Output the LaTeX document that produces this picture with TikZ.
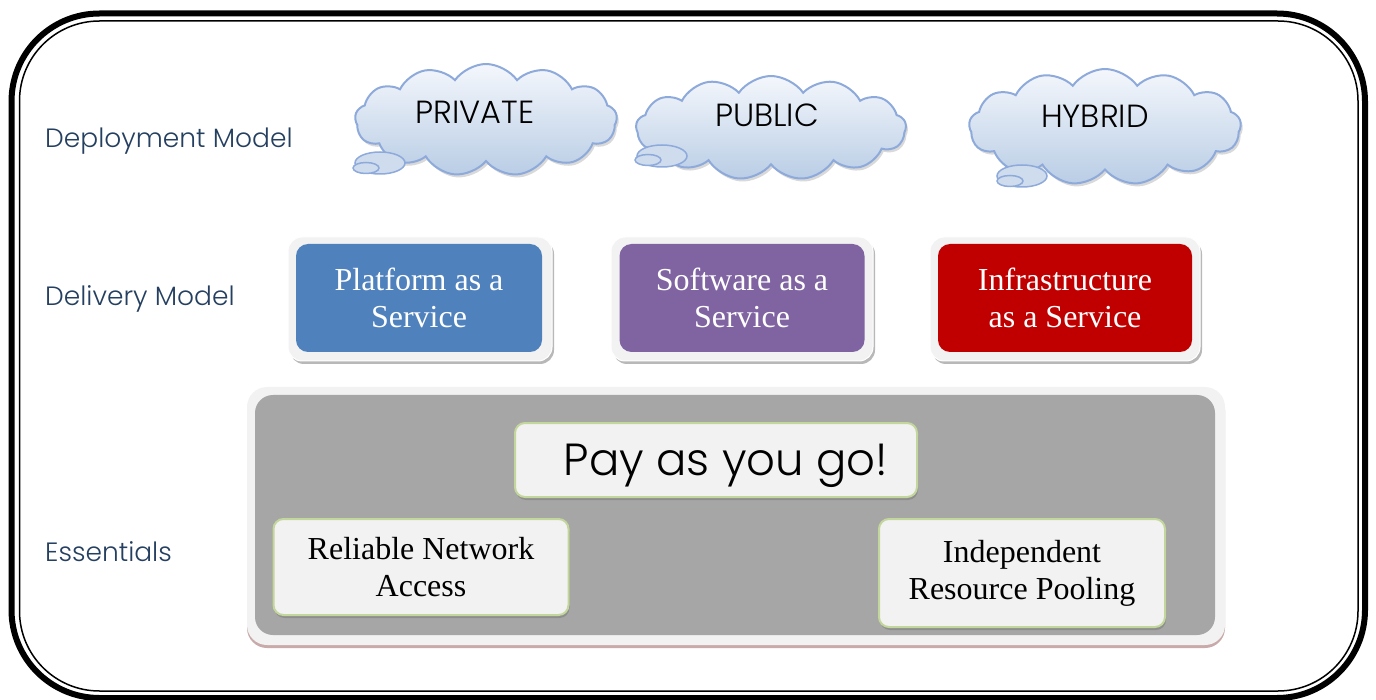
\documentclass[tikz,border=0pt]{standalone}
\usepackage{fontspec}
\setmainfont{Liberation Serif}
\newfontfamily\gothic{Poppins Light}
\usepackage{tikz}
\usetikzlibrary{shapes.symbols,shapes.geometric,shadows}
\definecolor{labelblue}{HTML}{243F60}
\definecolor{cloudline}{HTML}{8EAADB}
\definecolor{cloudtop}{HTML}{F4F7FC}
\definecolor{cloudbot}{HTML}{B9CDE5}
\definecolor{framegray}{HTML}{F2F2F2}
\definecolor{paasblue}{HTML}{4F81BD}
\definecolor{saaspurple}{HTML}{8064A2}
\definecolor{iaasred}{HTML}{C00000}
\definecolor{essgray}{HTML}{A6A6A6}
\definecolor{essgreen}{HTML}{C3D69B}
\definecolor{esspink}{HTML}{C9A9A9}

\begin{document}
\begin{tikzpicture}[x=1pt,y=-1pt,
  layer/.style={font=\gothic\fontsize{26.5}{30}\selectfont, text=labelblue, anchor=west, inner sep=0pt},
  thought/.style={cloud, cloud puffs=13, cloud puff arc=110, draw=cloudline, line width=2pt,
    top color=cloudtop, bottom color=cloudbot, inner sep=0pt,
    drop shadow={shadow xshift=2pt, shadow yshift=-3pt, fill=gray!50, opacity=.6}},
  bubble/.style={ellipse, draw=cloudline, line width=1.5pt, fill=cloudbot!70!white, inner sep=0pt},
  cloudtext/.style={font=\gothic\fontsize{32}{36}\selectfont},
  frame/.style={rounded corners=14, fill=framegray, draw=white, line width=1pt, inner sep=0pt,
    drop shadow={shadow xshift=2pt, shadow yshift=-3pt, fill=gray!70, opacity=.8}},
  service/.style={rounded corners=12, text=white, align=center, inner sep=0pt,
    font=\fontsize{32}{37}\selectfont},
  essential/.style={rounded corners=10, fill=framegray, draw=essgreen, line width=2pt, align=center,
    inner sep=0pt, font=\fontsize{32}{37}\selectfont,
    drop shadow={shadow xshift=1pt, shadow yshift=-3pt, fill=black!45, opacity=.9}}]

  \useasboundingbox (0,0) rectangle (1376,700);

  \draw[line width=6pt, rounded corners=88] (11.5,13.5) rectangle (1365,698);
  \draw[line width=1.5pt, rounded corners=80] (19.5,21) rectangle (1358,691);

  \node[layer] (deploy) at (45,141) {Deployment Model};
  \node[layer] (deliver) at (45,299) {Delivery Model};
  \node[layer] (essent) at (45,552) {Essentials};

  \node[thought, minimum width=262, minimum height=112] (private) at (486,120) {};
  \node[bubble, minimum width=50, minimum height=22] (privateb) at (380,163) {};
  \node[bubble, minimum width=26, minimum height=11] (privates) at (366,168) {};
  \node[cloudtext] (privatet) at (475,112) {PRIVATE};

  \node[thought, minimum width=270, minimum height=104] (public) at (771,128) {};
  \node[bubble, minimum width=50, minimum height=22] (publicb) at (662,156) {};
  \node[bubble, minimum width=26, minimum height=11] (publics) at (648,160) {};
  \node[cloudtext] (publict) at (767,115) {PUBLIC};

  \node[thought, minimum width=272, minimum height=116] (hybrid) at (1105,127) {};
  \node[bubble, minimum width=50, minimum height=22] (hybridb) at (1022,176) {};
  \node[bubble, minimum width=26, minimum height=11] (hybrids) at (1010,181) {};
  \node[cloudtext] (hybridt) at (1095,116) {HYBRID};

  \node[frame, minimum width=264, minimum height=124] (paasframe) at (420,299) {};
  \node[service, fill=paasblue, minimum width=246, minimum height=108] (paas) at (419,298)
    {Platform as a\\Service};

  \node[frame, minimum width=262, minimum height=124] (saasframe) at (742,299) {};
  \node[service, fill=saaspurple, minimum width=245, minimum height=108] (saas) at (742,298)
    {Software as a\\Service};

  \node[frame, minimum width=270, minimum height=124] (iaasframe) at (1065,299) {};
  \node[service, fill=iaasred, minimum width=254, minimum height=108] (iaas) at (1065,298)
    {Infrastructure\\as a Service};

  \node[rounded corners=20, fill=framegray, minimum width=978, minimum height=258, inner sep=0pt,
    drop shadow={shadow xshift=0pt, shadow yshift=-3pt, fill=esspink, opacity=1}]
    (essframe) at (736,516) {};
  \node[rounded corners=18, fill=essgray, minimum width=960, minimum height=240, inner sep=0pt]
    (ess) at (735,515) {};

  \node[essential, minimum width=402, minimum height=74, text depth=0pt,
    font=\gothic\fontsize{45}{50}\selectfont]
    (payg) at (716,460) {\hspace{20pt}Pay as you go!};
  \node[essential, minimum width=295, minimum height=96] (network) at (421,567)
    {Reliable Network\\Access};
  \node[essential, minimum width=286, minimum height=108] (pooling) at (1022,573)
    {Independent\\Resource Pooling};
\end{tikzpicture}
\end{document}
